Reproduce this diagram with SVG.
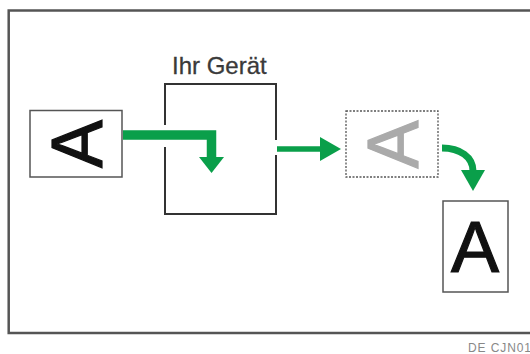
<svg xmlns="http://www.w3.org/2000/svg" width="530" height="354" viewBox="0 0 530 354">
<defs>
<style>
.box{fill:#fff;stroke:#555;stroke-width:1.5}
.dev{fill:none;stroke:#333;stroke-width:2}
.big{font-family:"Liberation Sans",Arial,sans-serif;font-size:72px;text-anchor:middle;stroke-width:1.2}
.g{fill:none;stroke:#0a9f4a}
.gh{fill:#0a9f4a}
</style>
</defs>
<rect width="530" height="354" fill="#fff"/>
<rect x="8.7" y="10.5" width="540" height="322.5" fill="none" stroke="#555" stroke-width="2.5"/>
<g id="original">
<rect class="box" x="30" y="110.5" width="92" height="66.5"/>
<text class="big" fill="#111" stroke="#111" transform="translate(76,144) rotate(-90)" x="0" y="25.8">A</text>
</g>
<g id="device">
<path class="dev" d="M165,125 V84 H276 V140 M276,155 V214 H165 V147"/>
<text x="172" y="74" font-family="'Liberation Sans',Arial,sans-serif" font-size="24" fill="#3a3a3a" stroke="#3a3a3a" stroke-width="0.3">Ihr Gerät</text>
</g>
<g id="image">
<rect x="346" y="111" width="92" height="66" fill="#fff" stroke="#555" stroke-width="1.3" stroke-dasharray="2,1.5"/>
<text class="big" fill="#aaa" stroke="#aaa" transform="translate(392,144.5) rotate(-90)" x="0" y="25.8">A</text>
</g>
<g id="output">
<rect class="box" x="443" y="201" width="65" height="91"/>
<text class="big" fill="#111" stroke="#111" x="475" y="272">A</text>
</g>
<g id="connectors">
<polyline class="g" stroke-width="9.5" points="123,135 211.5,135 211.5,158"/>
<polygon class="gh" points="199,157 224,157 211.5,173"/>
<line class="g" stroke-width="5.5" x1="277" y1="149" x2="321" y2="149"/>
<polygon class="gh" points="320,137 341,149 320,161"/>
<path class="g" stroke-width="7" d="M442,148 C460,148 473,157 473,171"/>
<polygon class="gh" points="461,170 485,170 473,191"/>
</g>
<text x="468" y="351.5" font-family="'Liberation Sans',Arial,sans-serif" font-size="12" letter-spacing="0.9" fill="#888">DE CJN016</text>
</svg>
